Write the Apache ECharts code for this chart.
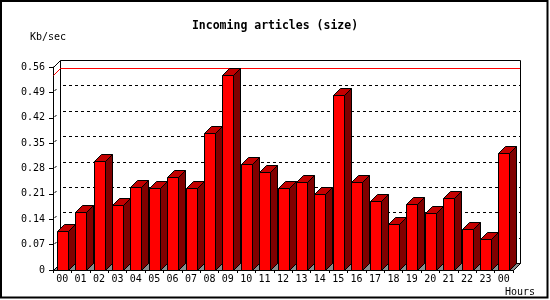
<!DOCTYPE html>
<html>
<head>
<meta charset="utf-8">
<script src="https://cdn.jsdelivr.net/npm/echarts@6/dist/echarts.min.js"></script>
<style>html,body{margin:0;padding:0;background:#fff}#c{width:550px;height:300px}</style>
</head>
<body>
<div id="c"></div>
<script>
const categories = ['00','01','02','03','04','05','06','07','08','09','10','11','12','13','14','15','16','17','18','19','20','21','22','23','00'];
const values = [0.107,0.159,0.302,0.178,0.228,0.225,0.256,0.225,0.377,0.537,0.292,0.271,0.225,0.242,0.209,0.482,0.244,0.190,0.126,0.181,0.156,0.198,0.112,0.085,0.322];
const yTicks = ['0','0.07','0.14','0.21','0.28','0.35','0.42','0.49','0.56'];
const yMin = 0, yMax = 0.56, yStep = 0.07;
const titleText = 'Incoming articles (size)';
const yUnit = 'Kb/sec';
const xUnit = 'Hours';

const D = 7;
const FONT = 'DejaVu Sans Mono';
const maxVal = Math.max.apply(null, values);

const chart = echarts.init(document.getElementById('c'), null, {renderer: 'canvas'});

function bgItem(params, api) {
  const cs = params.coordSys;
  const L = cs.x, T = cs.y, R = cs.x + cs.width, B = cs.y + cs.height;
  const ch = [];
  // back frame
  ch.push({type: 'rect', shape: {x: L + D + 0.5, y: T - D + 0.5, width: cs.width, height: cs.height},
    style: {fill: 'none', stroke: '#000', lineWidth: 1}});
  // front-to-back top diagonal
  ch.push({type: 'line', shape: {x1: L + 0.5, y1: T + 0.5, x2: L + D + 0.5, y2: T - D + 0.5},
    style: {stroke: '#000', lineWidth: 1}});
  // gridlines
  for (let k = 1; k < yTicks.length - 1; k++) {
    const v = yMin + k * yStep;
    const y = Math.round(api.coord([0, v])[1]) + 0.5;
    ch.push({type: 'line', shape: {x1: L + D + 3, y1: y - D, x2: R + D, y2: y - D},
      style: {stroke: '#000', lineWidth: 1, lineDash: [3, 3]}});
    ch.push({type: 'line', shape: {x1: L + 1.5, y1: y - 1.5, x2: L + 3.5, y2: y - 3.5},
      style: {stroke: '#000', lineWidth: 1}});
  }
  // max red line
  const my = Math.round(api.coord([0, maxVal])[1]) + 0.5;
  ch.push({type: 'line', shape: {x1: L + 0.5, y1: my, x2: L + D + 0.5, y2: my - D},
    style: {stroke: '#ff0000', lineWidth: 1}});
  ch.push({type: 'line', shape: {x1: L + D + 0.5, y1: my - D, x2: R + D, y2: my - D},
    style: {stroke: '#ff0000', lineWidth: 1}});
  // floor
  ch.push({type: 'polygon', shape: {points: [[L + 0.5, B + 0.5], [L + D + 0.5, B - D + 0.5], [R + D + 0.5, B - D + 0.5], [R + 0.5, B + 0.5]]},
    style: {fill: '#8c8c8c', stroke: '#000', lineWidth: 1}});
  return {type: 'group', children: ch};
}

function barItem(params, api) {
  const i = api.value(0), v = api.value(1);
  const top = api.coord([i, v]);
  const base = api.coord([i, 0]);
  const band = api.size([1, 0])[0];
  const w = Math.round(band * 0.6);
  const x0 = Math.round(top[0] - w / 2) + 0.5;
  const x1 = x0 + w;
  const yt = Math.round(top[1]) + 0.5;
  const yb = Math.round(base[1]) + 0.5;
  const st = {stroke: '#000', lineWidth: 1};
  return {type: 'group', children: [
    {type: 'polygon', shape: {points: [[x1, yt], [x1 + D, yt - D], [x1 + D, yb - D], [x1, yb]]},
      style: Object.assign({fill: '#800000'}, st)},
    {type: 'polygon', shape: {points: [[x0, yt], [x0 + D, yt - D], [x1 + D, yt - D], [x1, yt]]},
      style: Object.assign({fill: '#c40000'}, st)},
    {type: 'rect', shape: {x: x0, y: yt, width: w, height: yb - yt},
      style: Object.assign({fill: '#ff0000'}, st)}
  ]};
}

const option = {
  animation: false,
  backgroundColor: '#fff',
  title: {
    text: titleText, left: 'center', top: 20, padding: 0,
    textStyle: {fontFamily: FONT, fontSize: 11.5, fontWeight: 'bold', color: '#000'}
  },
  grid: {left: 53, right: 37, top: 67, bottom: 30, containLabel: false},
  xAxis: {
    type: 'category', data: categories,
    axisLine: {show: true, lineStyle: {color: '#000', width: 1}},
    axisTick: {show: true, length: 3, interval: 0, lineStyle: {color: '#000'}},
    axisLabel: {interval: 0, margin: 4, fontFamily: FONT, fontSize: 10, color: '#000'},
    splitLine: {show: false}
  },
  yAxis: {
    type: 'value', min: yMin, max: yMax, interval: yStep,
    axisLine: {show: true, lineStyle: {color: '#000', width: 1}},
    axisTick: {show: true, length: 4, lineStyle: {color: '#000'}},
    axisLabel: {margin: 8, fontFamily: FONT, fontSize: 10, color: '#000',
      formatter: function (v) { return yTicks[Math.round((v - yMin) / yStep)]; }},
    splitLine: {show: false}
  },
  graphic: [
    {type: 'rect', shape: {x: 1, y: 1, width: 546.5, height: 296.5}, style: {fill: 'none', stroke: '#000', lineWidth: 2}, z: 100},
    {type: 'text', x: 30, y: 37, style: {text: yUnit, fontFamily: FONT, fontSize: 10, fill: '#000', textVerticalAlign: 'middle'}},
    {type: 'text', x: 505, y: 292, style: {text: xUnit, fontFamily: FONT, fontSize: 10, fill: '#000', textVerticalAlign: 'middle'}}
  ],
  series: [
    {type: 'custom', renderItem: bgItem, data: [[0, 0]], z: 1, silent: true, clip: false},
    {type: 'custom', renderItem: barItem, data: values.map(function (v, i) { return [i, v]; }), z: 3, clip: false}
  ]
};
chart.setOption(option);
</script>
</body>
</html>
